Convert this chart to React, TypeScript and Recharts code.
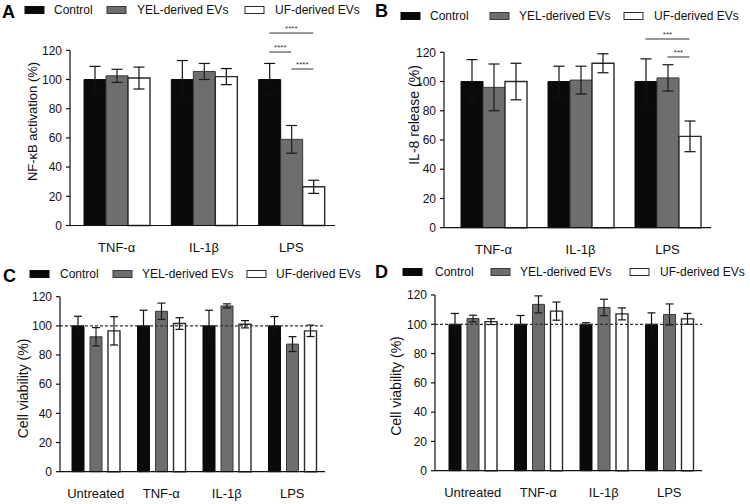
import React from 'react';
import { BarChart, Bar, XAxis, YAxis, ErrorBar, ReferenceLine } from 'recharts';

const FONT = '"Liberation Sans", Arial, Helvetica, sans-serif';

// ---------- categories / series ----------
const categoriesAB = ['TNF-α', 'IL-1β', 'LPS'];
const categoriesCD = ['Untreated', 'TNF-α', 'IL-1β', 'LPS'];
const seriesNames = ['Control', 'YEL-derived EVs', 'UF-derived EVs'];
const yTicks = [0, 20, 40, 60, 80, 100, 120];

// ---------- Panel A: NF-κB activation (%) ----------
const aControl = [100, 100, 100];
const aControlErr = [9, 13, 11];
const aYel = [102.5, 105.5, 59];
const aYelErr = [4.5, 5.5, 9.5];
const aUf = [101, 102, 26.5];
const aUfErr = [7.5, 5.5, 4.5];

// ---------- Panel B: IL-8 release (%) ----------
const bControl = [100, 100, 100];
const bControlErr = [15, 10.5, 15.5];
const bYel = [96, 101, 102.5];
const bYelErr = [16, 9.5, 9];
const bUf = [100, 112.5, 62.5];
const bUfErr = [12.5, 6.5, 10.5];

// ---------- Panel C: Cell viability (%) ----------
const cControl = [100, 100, 100, 100];
const cControlErr = [6.6, 10.7, 10.7, 6.4];
const cYel = [92.5, 110, 113.7, 87.5];
const cYelErr = [6.3, 5.6, 1.4, 5.1];
const cUf = [96.6, 101.6, 101.1, 96.6];
const cUfErr = [9.7, 4, 2.5, 3.9];

// ---------- Panel D: Cell viability (%) ----------
const dControl = [100, 100, 100, 100];
const dControlErr = [7.4, 6, 1.1, 7.8];
const dYel = [103.9, 113.6, 111.5, 106.7];
const dYelErr = [2.3, 5.8, 5.6, 7.2];
const dUf = [101.8, 109, 107.1, 103.7];
const dUfErr = [2, 6.2, 4.1, 3.7];

// ---------- significance annotations (bar index within category) ----------
const sigA = [
  { cat: 'LPS', from: 0, to: 2, y: 131.8, label: '****' },
  { cat: 'LPS', from: 0, to: 1, y: 118.8, label: '****' },
  { cat: 'LPS', from: 1, to: 2, y: 107.2, label: '****' },
];
const sigB = [
  { cat: 'LPS', from: 0, to: 2, y: 129.1, label: '***' },
  { cat: 'LPS', from: 1, to: 2, y: 116.8, label: '***' },
];

function buildRows(cats: string[], ctrl: number[], ctrlErr: number[], yel: number[], yelErr: number[], uf: number[], ufErr: number[]) {
  return cats.map((c, i) => ({
    cat: c,
    control: ctrl[i],
    controlErr: ctrlErr[i],
    yel: yel[i],
    yelErr: yelErr[i],
    uf: uf[i],
    ufErr: ufErr[i],
  }));
}

const rowsA = buildRows(categoriesAB, aControl, aControlErr, aYel, aYelErr, aUf, aUfErr);
const rowsB = buildRows(categoriesAB, bControl, bControlErr, bYel, bYelErr, bUf, bUfErr);
const rowsC = buildRows(categoriesCD, cControl, cControlErr, cYel, cYelErr, cUf, cUfErr);
const rowsD = buildRows(categoriesCD, dControl, dControlErr, dYel, dYelErr, dUf, dUfErr);

const INK = '#111';
const GRAY = '#6e6e6e';
const GRAY_EDGE = '#3a3a3a';

type Sig = { cat: string; from: number; to: number; y: number; label: string };

type PanelProps = {
  rows: any[];
  x: number; y: number; w: number; h: number;
  plotLeft: number; plotRight: number; plotTop: number; plotBottom: number;
  padLeft: number;
  barSize: number; barGap: number; cap: number;
  dashed?: boolean;
  sigs?: Sig[];
};

function Panel(p: PanelProps) {
  const pitch = p.barSize + p.barGap;
  const xAxisH = 30;
  return (
    <div style={{ position: 'absolute', left: p.x, top: p.y }}>
      <BarChart
        width={p.w}
        height={p.h}
        data={p.rows}
        margin={{ top: p.plotTop - p.y, right: p.x + p.w - p.plotRight, bottom: p.y + p.h - p.plotBottom - xAxisH, left: 0 }}
        barSize={p.barSize}
        barGap={p.barGap}
        style={{ fontFamily: FONT, overflow: 'visible' }}
      >
        <XAxis
          dataKey="cat"
          height={xAxisH}
          interval={0}
          tickLine={false}
          tickSize={0}
          tickMargin={17}
          padding={{ left: p.padLeft, right: 0 }}
          axisLine={{ stroke: INK, strokeWidth: 1.2 }}
          tick={{ fontSize: 13, fill: INK, fontFamily: FONT }}
        />
        <YAxis
          width={p.plotLeft - p.x}
          domain={[0, 120]}
          ticks={yTicks}
          interval={0}
          tickSize={4}
          tickMargin={4}
          axisLine={{ stroke: INK, strokeWidth: 1.2 }}
          tickLine={{ stroke: INK, strokeWidth: 1.2 }}
          tick={{ fontSize: 12, fill: INK, fontFamily: FONT }}
        />
        <Bar dataKey="control" name={seriesNames[0]} fill="#0a0a0a" stroke="#0a0a0a" strokeWidth={1} isAnimationActive={false}>
          <ErrorBar dataKey="controlErr" width={p.cap} stroke={INK} strokeWidth={1.2} />
        </Bar>
        <Bar dataKey="yel" name={seriesNames[1]} fill={GRAY} stroke={GRAY_EDGE} strokeWidth={1} isAnimationActive={false}>
          <ErrorBar dataKey="yelErr" width={p.cap} stroke="#1a1a1a" strokeWidth={1.2} />
        </Bar>
        <Bar dataKey="uf" name={seriesNames[2]} fill="#ffffff" stroke="#2a2a2a" strokeWidth={1.4} isAnimationActive={false}>
          <ErrorBar dataKey="ufErr" width={p.cap} stroke={INK} strokeWidth={1.2} />
        </Bar>
        {p.dashed && (
          <ReferenceLine y={100} stroke="#333" strokeWidth={1.2} strokeDasharray="3 2" ifOverflow="visible" />
        )}
        {(p.sigs || []).map((s, i) => (
          <ReferenceLine
            key={i}
            ifOverflow="visible"
            stroke="#333"
            strokeWidth={1}
            segment={[
              { x: s.cat, y: s.y },
              { x: s.cat, y: s.y },
            ]}
            shape={(props: any) => {
              const cx = Number(props.x1);
              const yy = Number(props.y1);
              const xa = cx + (s.from - 1) * pitch;
              const xb = cx + (s.to - 1) * pitch;
              return (
                <g>
                  <line x1={xa} y1={yy} x2={xb} y2={yy} stroke="#333" strokeWidth={1} />
                  <text x={(xa + xb) / 2} y={yy - 2} textAnchor="middle" fontSize={8} fill="#333" fontFamily={FONT}>
                    {s.label}
                  </text>
                </g>
              );
            }}
          />
        ))}
      </BarChart>
    </div>
  );
}

type HeaderProps = {
  letter: string; letterX: number; letterY: number;
  boxX: number[]; textX: number[]; y: number;
  ylabel: string; ylx: number; yly: number; ylSize: number;
};

function Header(h: HeaderProps) {
  const fills = ['#0a0a0a', GRAY, '#ffffff'];
  const strokes = ['#0a0a0a', GRAY_EDGE, '#2a2a2a'];
  return (
    <g fontFamily={FONT}>
      <text x={h.letterX} y={h.letterY} fontSize={18} fontWeight={900} fill="#000">{h.letter}</text>
      {seriesNames.map((name, i) => (
        <g key={name}>
          <rect x={h.boxX[i]} y={h.y - 3.5} width={19} height={7} fill={fills[i]} stroke={strokes[i]} strokeWidth={1} />
          <text x={h.textX[i]} y={h.y} dominantBaseline="central" fontSize={12} fill={INK}>{name}</text>
        </g>
      ))}
      <text
        x={h.ylx}
        y={h.yly}
        transform={`rotate(-90 ${h.ylx} ${h.yly})`}
        textAnchor="middle"
        dominantBaseline="central"
        fontSize={h.ylSize}
        fill={INK}
      >
        {h.ylabel}
      </text>
    </g>
  );
}

export default function App() {
  return (
    <div style={{ position: 'absolute', left: 0, top: 0, width: 750, height: 504, background: '#fff', overflow: 'hidden' }}>
      <Panel rows={rowsA} x={0} y={0} w={345} h={260} plotLeft={70} plotRight={335} plotTop={50.3} plotBottom={225.5}
        padLeft={3} barSize={22} barGap={0} cap={5.5} sigs={sigA} />
      <Panel rows={rowsB} x={375} y={0} w={375} h={260} plotLeft={444} plotRight={711} plotTop={52.3} plotBottom={227.7}
        padLeft={6} barSize={22} barGap={0} cap={5.5} sigs={sigB} />
      <Panel rows={rowsC} x={0} y={255} w={345} h={249} plotLeft={60} plotRight={325} plotTop={296.7} plotBottom={471.7}
        padLeft={3} barSize={12} barGap={6} cap={4} dashed />
      <Panel rows={rowsD} x={375} y={255} w={375} h={249} plotLeft={435} plotRight={702} plotTop={295} plotBottom={470.7}
        padLeft={5} barSize={12} barGap={6} cap={4} dashed />
      <svg width={750} height={504} style={{ position: 'absolute', left: 0, top: 0, pointerEvents: 'none' }}>
        <Header letter="A" letterX={2} letterY={18} boxX={[25, 107, 245]} textX={[54, 137, 275]} y={10}
          ylabel="NF-κB activation (%)" ylx={32.5} yly={121.5} ylSize={13} />
        <Header letter="B" letterX={375} letterY={17} boxX={[401, 490, 624]} textX={[430, 519, 654]} y={16}
          ylabel="IL-8 release (%)" ylx={414} yly={115} ylSize={14} />
        <Header letter="C" letterX={3} letterY={282} boxX={[30, 113, 247]} textX={[60, 142, 276]} y={274}
          ylabel="Cell viability (%)" ylx={22.5} yly={388.5} ylSize={14} />
        <Header letter="D" letterX={375} letterY={278} boxX={[403, 491, 630]} textX={[435, 520, 660]} y={272}
          ylabel="Cell viability (%)" ylx={396} yly={386} ylSize={14} />
      </svg>
    </div>
  );
}
